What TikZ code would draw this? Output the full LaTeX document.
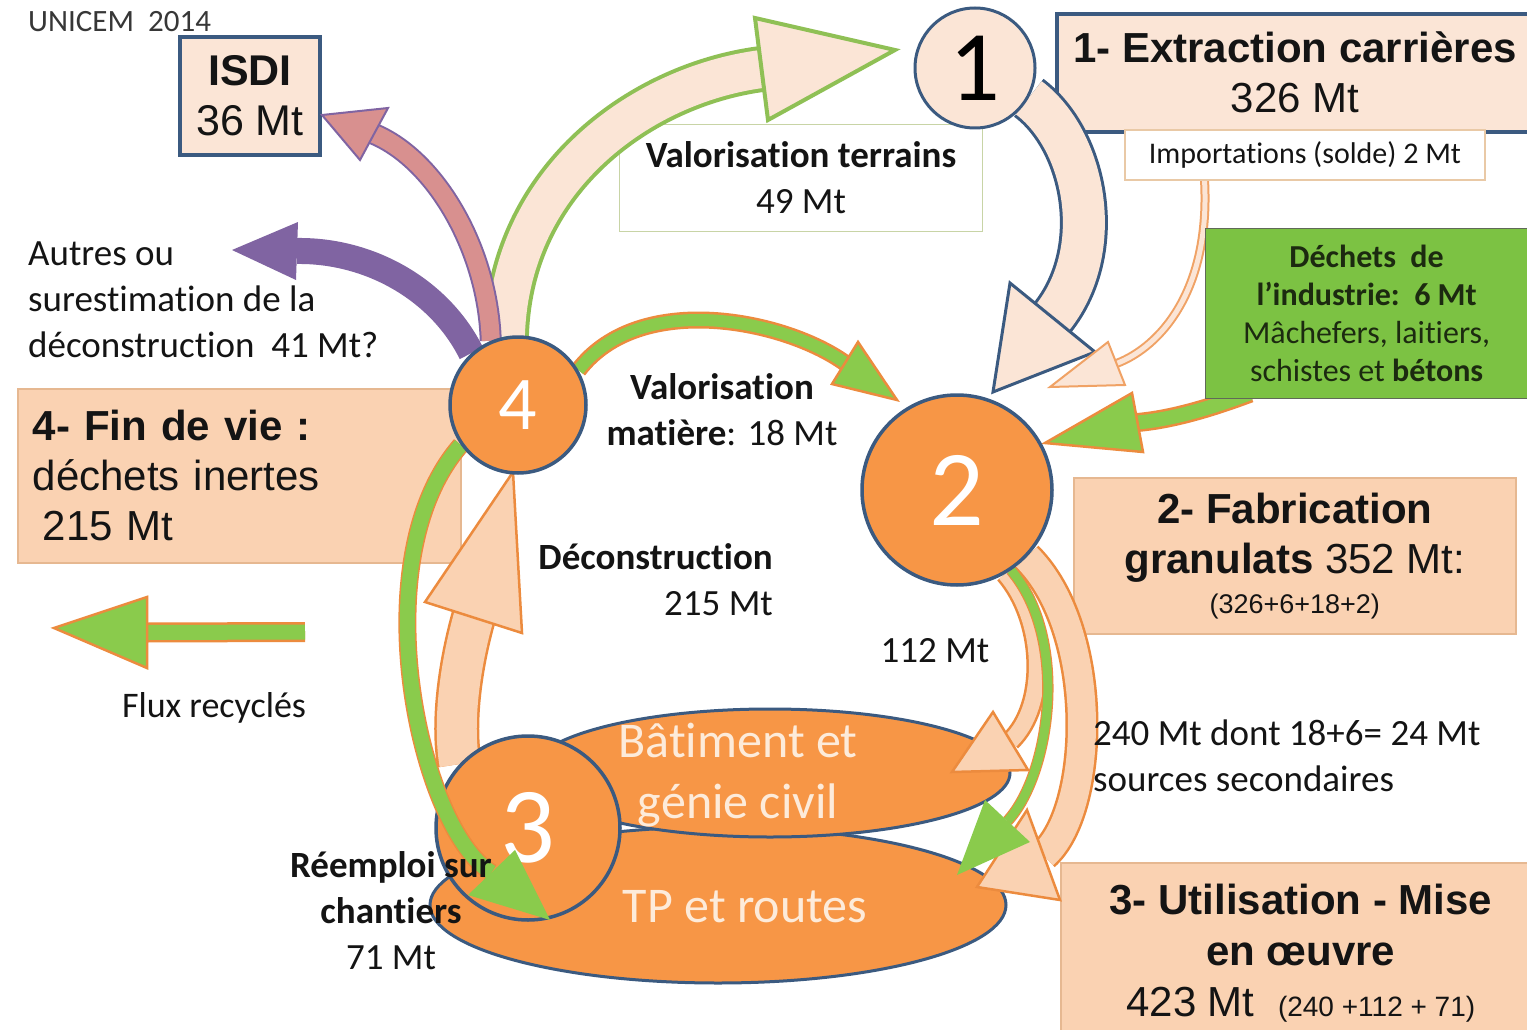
\documentclass[tikz,border=0pt]{standalone}
\usepackage{fontspec}
\setmainfont{Carlito}[RawFeature=-liga,RawFeature=-clig,RawFeature=-calt,RawFeature=-rlig,RawFeature=-dlig]
\newfontfamily\arialf{Liberation Sans}
\usetikzlibrary{shapes.geometric,calc}
\pgfdeclarelayer{boxes}
\pgfdeclarelayer{arrA}
\pgfdeclarelayer{mid}
\pgfdeclarelayer{arrB}
\pgfsetlayers{boxes,arrA,mid,arrB,main}
\definecolor{corange}{HTML}{F79646}
\definecolor{cblue}{HTML}{3B5A80}
\definecolor{cpeach}{HTML}{FBE5D6}
\definecolor{cpeachd}{HTML}{FAD2B2}
\definecolor{cgreen}{HTML}{8ACB4C}
\definecolor{cgreenbox}{HTML}{7CC243}
\definecolor{cgreenl}{HTML}{8FC055}
\definecolor{corangeb}{HTML}{EC8B3E}
\definecolor{cpink}{HTML}{D8908F}
\definecolor{cpurple}{HTML}{8064A2}
\definecolor{cboxline}{HTML}{E6B891}
\definecolor{cimpline}{HTML}{E9C9A6}
\definecolor{cvtline}{HTML}{C8D4A6}
\definecolor{ctext}{HTML}{141414}
\definecolor{cdechtext}{HTML}{1C2A10}
\definecolor{cwtext}{HTML}{FDEBDA}
\newcommand\fsz[2]{\fontsize{#1}{#2}\selectfont}
\tikzset{
  numc/.style={circle, draw=cblue, line width=3.5pt, fill=corange, text=white, inner sep=0pt},
  shaft/.style n args={3}{draw=#2, line width=2.5pt, double=#1, double distance=#3},
  ahead/.style 2 args={fill=#1, draw=#2, line width=2.5pt, line join=miter},
  pbox/.style={draw=cboxline, line width=1.5pt, fill=cpeachd, anchor=north west, inner sep=0pt},
  lbl/.style={font=\fsz{37}{46}, text=ctext, inner sep=0pt},
  elli/.style={ellipse, draw=cblue, line width=3pt, fill=corange, inner sep=0pt},
}
\begin{document}
\begin{tikzpicture}[x=1pt,y=-1pt]
\useasboundingbox (0,0) rectangle (1527,1030);
% ---------------- boxes
\begin{pgfonlayer}{boxes}
\fill[white] (0,0) rectangle (1527,1030);
\node[draw=cblue, line width=4pt, fill=cpeach, minimum width=140, minimum height=118, inner sep=0pt,
      font=\arialf\fsz{43}{50}, align=center, text=ctext] (isdi) at (250,96) {\textbf{ISDI}\\36 Mt};
\node[draw=cblue, line width=4pt, fill=cpeach, minimum width=490, minimum height=118, anchor=north west, inner sep=0pt] (ext) at (1055,12) {};
\node[font=\arialf\fsz{42}{50}, align=center, text=ctext] (extt) at (1295,72) {\textbf{1- Extraction carrières}\\326 Mt};
\node[draw=cvtline, line width=1.5pt, fill=white, minimum width=363, minimum height=107, inner sep=0pt,
      align=center, font=\fsz{37}{46}, text=ctext] (vt) at (801,178) {\textbf{Valorisation terrains}\\49 Mt};
\node[pbox, minimum width=442, minimum height=156, align=center, font=\arialf\fsz{42}{50}, text=ctext] (fab) at (1073,477)
  {\textbf{2- Fabrication}\\\textbf{granulats} 352 Mt:\\[-10pt]{\fsz{27}{32}(326+6+18+2)}};
\node[pbox, minimum width=480, minimum height=180, align=center, font=\arialf\fsz{42}{51}, text=ctext] (util) at (1060,862)
  {\textbf{3- Utilisation - Mise}\\\textbf{en œuvre}\\423 Mt\ \ {\fsz{28}{32}(240 +112 + 71)}};
\node[pbox, minimum height=174, text width=413, inner xsep=15pt, align=left, font=\arialf\fsz{42}{50}, text=ctext] (fin) at (17,388)
  {\textbf{4- Fin de vie :}\\déchets inertes\\\hspace*{10pt}215 Mt};
\end{pgfonlayer}
% ---------------- middle: ellipses and circle 3
\begin{pgfonlayer}{mid}
\node[elli, minimum width=576, minimum height=156] (tp) at (718,905) {};
\node[elli, minimum width=480, minimum height=128] (bat) at (770,773) {};
\node[numc, minimum size=184, font=\fsz{108}{108}] (c3) at (528,828) {3};
\end{pgfonlayer}
% ---------------- top nodes
\node[draw=cimpline, line width=1.5pt, fill=white, minimum width=360, minimum height=50, inner sep=0pt,
      font=\fsz{30}{36}, text=ctext] (imp) at (1305,155) {Importations (solde) 2 Mt};
\node[draw=cdechtext!70, line width=1.2pt, fill=cgreenbox, minimum width=322, minimum height=170, anchor=north west,
      inner sep=0pt, align=center, font=\fsz{32}{38}, text=cdechtext] (dech) at (1205,228)
  {\textbf{Déchets\ \ de}\\\textbf{l’industrie:\ \ 6 Mt}\\Mâchefers, laitiers,\\schistes et \textbf{bétons}};
\node[numc, minimum size=120, fill=cpeach, text=black, line width=3pt, font=\fsz{100}{100}] (c1) at (975,68) {1};
\node[numc, minimum size=190, font=\fsz{108}{108}] (c2) at (957,490) {2};
\node[numc, minimum size=136, font=\fsz{76}{76}] (c4) at (518,405) {4};
% ---------------- arrows, lower layer
\begin{pgfonlayer}{arrA}
% 3 -> 4 deconstruction
\coordinate (dA) at (425,602); \coordinate (dB) at (522,633); \coordinate (dT) at (513,472);
\draw[shaft={cpeachd}{corangeb}{40}] (c3.137) .. controls (452,720) and (461,662) .. ($(dA)!0.5!(dB)$);
\draw[ahead={cpeachd}{corangeb}] (dA) -- (dT) -- (dB) -- cycle;
% 4 -> 1 valorisation terrains
\coordinate (vA) at (755,18); \coordinate (vB) at (768,120); \coordinate (vT) at (895,50);
\draw[shaft={cpeach}{cgreenl}{38}, line width=4pt] (c4.100) .. controls (510,180) and (640,85) .. ($(vA)!0.5!(vB)$);
\draw[ahead={cpeach}{cgreenl}, line width=4pt] (vA) -- (vT) -- (vB) -- cycle;
% 4 -> ISDI
\coordinate (kA) at (388,108); \coordinate (kB) at (360,160); \coordinate (kT) at (322,115);
\draw[shaft={cpink}{cpurple}{18}, line width=2pt] (c4.113) .. controls (488,250) and (436,160) .. ($(kA)!0.5!(kB)$);
\draw[ahead={cpink}{cpurple}, line width=2pt] (kA) -- (kT) -- (kB) -- cycle;
% 4 -> autres
\coordinate (uA) at (298,222); \coordinate (uB) at (296,280); \coordinate (uT) at (232,250);
\draw[cpurple, line width=26pt] (c4.132) .. controls (440,290) and (370,250) .. ($(uA)!0.5!(uB)$);
\fill[cpurple] (uA) -- (uT) -- (uB) -- cycle;
% 1 -> 2
\coordinate (bA) at (1010,283); \coordinate (bB) at (1095,352); \coordinate (bT) at (993,392);
\draw[shaft={cpeach}{cblue}{42}, line width=3pt] (c1.-29) .. controls (1085,140) and (1107,249) .. ($(bA)!0.5!(bB)$);
\draw[ahead={cpeach}{cblue}, line width=3pt] (bA) -- (bT) -- (bB) -- cycle;
% importations -> 2
\coordinate (iA) at (1108,342); \coordinate (iB) at (1125,385); \coordinate (iT) at (1050,387);
\draw[shaft={cpeach}{corangeb!80}{5}, line width=2pt] ($(imp.south west)+(80,-5)$) .. controls (1212,290) and (1160,347) .. ($(iA)!0.5!(iB)$);
\draw[ahead={cpeach}{corangeb!80}, line width=2pt] (iA) -- (iT) -- (iB) -- cycle;
% dechets -> 2
\coordinate (gA) at (1132,393); \coordinate (gB) at (1143,452); \coordinate (gT) at (1045,443);
\draw[shaft={cgreen}{corangeb}{14}] ($(dech.south west)+(45,-6)$) .. controls (1200,412) and (1165,420) .. ($(gA)!0.5!(gB)$);
\draw[ahead={cgreen}{corangeb}] (gA) -- (gT) -- (gB) -- cycle;
% 4 -> 2 valorisation matiere
\coordinate (mA) at (858,342); \coordinate (mB) at (832,384); \coordinate (mT) at (897,400);
\draw[shaft={cgreen}{corangeb}{12}] (c4.30) .. controls (640,290) and (785,320) .. ($(mA)!0.5!(mB)$);
\draw[ahead={cgreen}{corangeb}] (mA) -- (mT) -- (mB) -- cycle;
% legend
\coordinate (fS) at (305,632); \coordinate (fA) at (147,597); \coordinate (fB) at (147,668); \coordinate (fT) at (54,628);
\draw[shaft={cgreen}{corangeb}{15}] (fS) -- ($(fA)!0.5!(fB)$);
\draw[ahead={cgreen}{corangeb}] (fA) -- (fT) -- (fB) -- cycle;
\end{pgfonlayer}
% ---------------- arrows, upper layer
\begin{pgfonlayer}{arrB}
% 4 -> 3 reemploi
\coordinate (rA) at (468,895); \coordinate (rB) at (515,850); \coordinate (rT) at (550,920);
\draw[shaft={cgreen}{corangeb}{15}, line width=1.5pt] (c4.215) .. controls (360,560) and (420,830) .. ($(rA)!0.5!(rB)$);
\fill[cgreen] (rA) -- (rT) -- (rB) -- cycle;
% 2 -> 3 (240 Mt)
\coordinate (pA) at (1027,810); \coordinate (pB) at (1060,900); \coordinate (pT) at (977,887);
\draw[shaft={cpeachd}{corangeb}{28}] (c2.-44) .. controls (1100,630) and (1095,810) .. ($(pA)!0.5!(pB)$);
\draw[ahead={cpeachd}{corangeb}] (pA) -- (pT) -- (pB) -- cycle;
% 2 -> 3 (112 Mt)
\coordinate (qA) at (993,712); \coordinate (qB) at (1028,770); \coordinate (qT) at (952,772);
\draw[shaft={cpeachd}{corangeb}{16}] (c2.-60) .. controls (1045,620) and (1048,705) .. ($(qA)!0.5!(qB)$);
\draw[ahead={cpeachd}{corangeb}] (qA) -- (qT) -- (qB) -- cycle;
% 2 -> 3 green
\coordinate (hA) at (985,800); \coordinate (hB) at (1030,842); \coordinate (hT) at (957,875);
\draw[shaft={cgreen}{corangeb}{9}, line width=1.2pt] (c2.-56) .. controls (1070,640) and (1050,775) .. ($(hA)!0.5!(hB)$);
\fill[cgreen] (hA) -- (hT) -- (hB) -- cycle;
\end{pgfonlayer}
% ---------------- labels
\node[anchor=base west, font=\fsz{31}{36}, text=ctext!85, inner sep=0pt] (unicem) at (28,32) {UNICEM\ \ 2014};
\node[lbl, anchor=north west, align=left] (autres) at (28,242) {Autres ou\\surestimation de la\\déconstruction\ \ 41 Mt?};
\node[lbl, align=center] (vm) at (722,410) {\textbf{Valorisation}\\\textbf{matière}: 18 Mt};
\node[lbl, anchor=north east, align=right] (dec) at (773,543) {\textbf{Déconstruction}\\215 Mt};
\node[lbl] (m112) at (935,651) {112 Mt};
\node[lbl, anchor=north west, align=left] (m240) at (1093,720) {240 Mt dont 18+6= 24 Mt\\sources secondaires};
\node[lbl, align=center] (reemp) at (391,911) {\textbf{Réemploi sur}\\\textbf{chantiers}\\71 Mt};
\node[lbl, font=\fsz{36}{44}] (flux) at (214,708) {Flux recyclés};
\node[font=\fsz{50}{61}, text=cwtext, align=center, inner sep=0pt] (batt) at (738,775) {Bâtiment et\\génie civil};
\node[font=\fsz{50}{61}, text=cwtext, inner sep=0pt] (tpt) at (745,907) {TP et routes};
\end{tikzpicture}
\end{document}
